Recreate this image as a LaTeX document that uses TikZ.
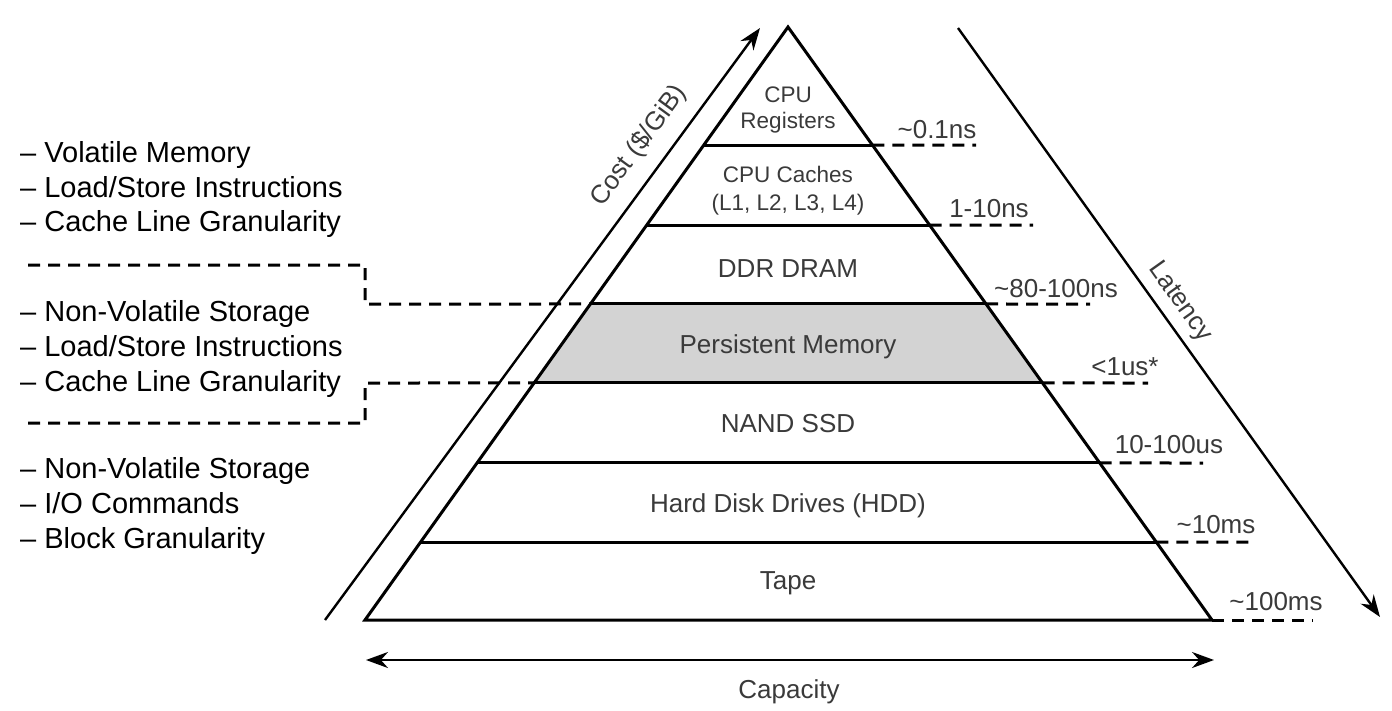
\documentclass[tikz,border=0pt]{standalone}
\usepackage{fontspec}
\setmainfont{Liberation Sans}
\usetikzlibrary{calc,arrows.meta}
\definecolor{txtgray}{HTML}{3A3A3A}
\definecolor{bandgray}{HTML}{D3D3D3}
\newcommand{\tld}{\textasciitilde}
\tikzset{
  layerlbl/.style={text=txtgray, font=\fontsize{26}{28}\selectfont, inner sep=0pt, anchor=base},
  toplbl/.style={text=txtgray, font=\fontsize{22.5}{24}\selectfont, inner sep=0pt, anchor=base},
  latlbl/.style={text=txtgray, font=\fontsize{26}{28}\selectfont, inner sep=0pt, anchor=base},
  leftlbl/.style={text=black, font=\fontsize{29}{31}\selectfont, inner sep=0pt, anchor=base west},
  axislbl/.style={text=txtgray, font=\fontsize{26}{28}\selectfont, inner sep=0pt},
  pline/.style={line width=3pt, line join=miter},
  dline/.style={line width=3pt, dash pattern=on 12pt off 8pt},
  axisline/.style={line width=2.4pt},
  tip/.tip={Stealth[length=22pt,width=16pt]},
}
\begin{document}
\begin{tikzpicture}[x=1pt,y=-1pt]
\useasboundingbox (0,0) rectangle (1392,710);
% pyramid corners
\coordinate (apex) at (788,27);
\coordinate (bl) at (365,620);
\coordinate (br) at (1212,620);
% layer boundaries
\foreach \n/\t in {a/0.1990, b/0.3339, c/0.4671, d/0.6003, e/0.7352, f/0.8685}{
  \coordinate (\n L) at ($(apex)!\t!(bl)$);
  \coordinate (\n R) at ($(apex)!\t!(br)$);
}
% persistent memory band
\fill[bandgray] (cL) -- (cR) -- (dR) -- (dL) -- cycle;
% pyramid outline and layers
\draw[pline] (apex) -- (bl) -- (br) -- cycle;
\foreach \n in {a,b,c,d,e,f}{ \draw[pline] (\n L) -- (\n R); }
% latency dashed extensions
\coordinate (ea) at (976,145);
\coordinate (eb) at (1033,225);
\coordinate (ec) at (1090,304);
\coordinate (ed) at (1148,383);
\coordinate (ee) at (1203,463);
\coordinate (ef) at (1255,542);
\coordinate (eg) at (1313,620);
\draw[dline] (aR) -- (ea);
\draw[dline] (bR) -- (eb);
\draw[dline] (cR) -- (ec);
\draw[dline] (dR) -- (ed);
\draw[dline] (eR) -- (ee);
\draw[dline] (fR) -- (ef);
\draw[dline] (br) -- (eg);
% left dashed separators
\coordinate (s1a) at (28,265);
\coordinate (s1b) at (365,265);
\coordinate (s1c) at (365,304);
\coordinate (s2a) at (28,423);
\coordinate (s2b) at (365,423);
\coordinate (s2c) at (365,383);
\draw[dline] (s1a) -- (s1b) -- (s1c) -- (cL);
\draw[dline] (s2a) -- (s2b) -- (s2c) -- (dL);
% layer labels
\node[toplbl] (cpu1) at (788,102) {CPU};
\node[toplbl] (cpu2) at (788,128) {Registers};
\node[toplbl] (cache1) at (788,182) {CPU Caches};
\node[toplbl] (cache2) at (788,210) {(L1, L2, L3, L4)};
\node[layerlbl] (ddr) at (788,277) {DDR DRAM};
\node[layerlbl] (pmem) at (788,353) {Persistent Memory};
\node[layerlbl] (ssd) at (788,432) {NAND SSD};
\node[layerlbl] (hdd) at (788,512) {Hard Disk Drives (HDD)};
\node[layerlbl] (tape) at (788,589) {Tape};
% latency labels
\node[latlbl] (l1) at (937,138) {\tld0.1ns};
\node[latlbl] (l2) at (989,217) {1-10ns};
\node[latlbl] (l3) at (1056,297) {\tld80-100ns};
\node[latlbl] (l4) at (1125,375) {<1us*};
\node[latlbl] (l5) at (1169,453) {10-100us};
\node[latlbl] (l6) at (1216,533) {\tld10ms};
\node[latlbl] (l7) at (1276,610) {\tld100ms};
% axes
\coordinate (costA) at (325,620);
\coordinate (costB) at (760,28);
\draw[axisline,-tip] (costA) -- (costB);
\node[axislbl, rotate=53.7] (cost) at (639,146) {Cost (\$/GiB)};
\coordinate (latA) at (958,28);
\coordinate (latB) at (1380,617);
\draw[axisline,-tip] (latA) -- (latB);
\node[axislbl, rotate=-54.6] (lat) at (1180,302) {Latency};
\coordinate (capA) at (366,660);
\coordinate (capB) at (1214,660);
\draw[axisline,tip-tip] (capA) -- (capB);
\node[axislbl, anchor=base] (cap) at (789,698) {Capacity};
% left descriptions
\node[leftlbl] (t1) at (20,162) {– Volatile Memory};
\node[leftlbl] (t2) at (20,197) {– Load/Store Instructions};
\node[leftlbl] (t3) at (20,231) {– Cache Line Granularity};
\node[leftlbl] (t4) at (20,321) {– Non-Volatile Storage};
\node[leftlbl] (t5) at (20,356) {– Load/Store Instructions};
\node[leftlbl] (t6) at (20,391) {– Cache Line Granularity};
\node[leftlbl] (t7) at (20,478) {– Non-Volatile Storage};
\node[leftlbl] (t8) at (20,513) {– I/O Commands};
\node[leftlbl] (t9) at (20,548) {– Block Granularity};
\end{tikzpicture}
\end{document}
